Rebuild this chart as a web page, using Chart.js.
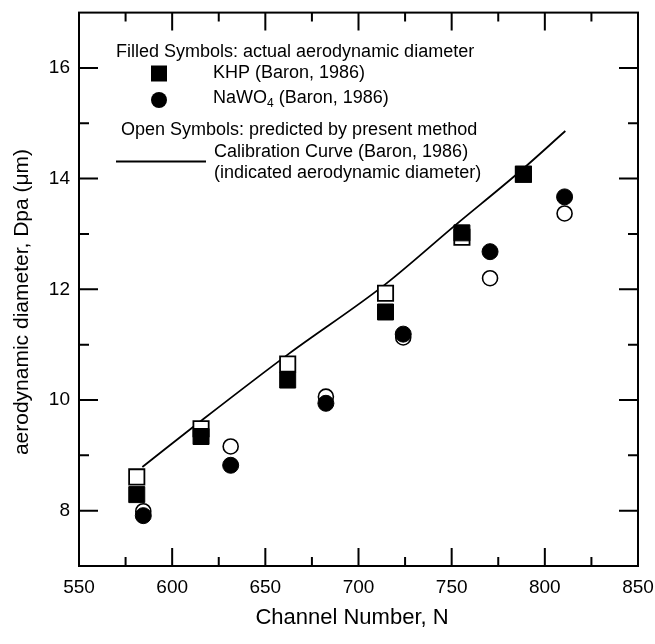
<!DOCTYPE html>
<html>
<head>
<meta charset="utf-8">
<title>Aerodynamic diameter vs channel number</title>
<script src="https://cdn.jsdelivr.net/npm/chart.js@4/dist/chart.umd.min.js"></script>
<style>
  html, body { margin: 0; padding: 0; background: #fff; }
  #wrap { width: 655px; height: 644px; }
</style>
</head>
<body>
<div id="wrap"><canvas id="chart" width="655" height="644"></canvas></div>
<script>
// KHP (Baron, 1986): channel number, actual and predicted diameter (um)
const khpN = [581, 615.5, 662, 714.5, 755.5, 788.5];
const khpActual = [8.29, 9.34, 10.36, 11.59, 13.02, 14.08];
const khpPredicted = [8.61, 9.48, 10.65, 11.93, 12.94, 14.08];

// NaWO4 (Baron, 1986)
const nawoN = [584.5, 631.4, 682.5, 724, 770.6, 810.6];
const nawoActual = [7.91, 8.82, 9.94, 11.19, 12.68, 13.67];
const nawoPredicted = [7.99, 9.16, 10.06, 11.13, 12.20, 13.37];

// calibration curve (indicated aerodynamic diameter)
const curveN = [584, 615, 662, 714, 752, 786, 811];
const curveDpa = [8.79, 9.61, 10.82, 12.08, 13.16, 14.11, 14.86];

const xTicks = [550, 600, 650, 700, 750, 800, 850];
const xMinor = [575, 625, 675, 725, 775, 825];
const yTicks = [8, 10, 12, 14, 16];
const yMinor = [9, 11, 13, 15];

const xTitle = 'Channel Number, N';
const yTitle = 'aerodynamic diameter, Dpa (\u03bcm)';
const legendLines = [
  'Filled Symbols: actual aerodynamic diameter',
  'KHP (Baron, 1986)',
  'NaWO',
  'Open Symbols: predicted by present method',
  'Calibration Curve (Baron, 1986)',
  '(indicated aerodynamic diameter)'
];

const FONT = '"Liberation Sans", Arial, Helvetica, sans-serif';
const pts = (xs, ys) => xs.map((v, i) => ({ x: v, y: ys[i] }));

// frame with inward ticks on all four sides
const frameTicks = {
  id: 'frameTicks',
  beforeDatasetsDraw(chart) {
    const { ctx, chartArea: a, scales: { x, y } } = chart;
    ctx.save();
    ctx.strokeStyle = '#000';
    ctx.lineWidth = 2;
    ctx.strokeRect(a.left, a.top, a.right - a.left, a.bottom - a.top);
    ctx.beginPath();
    const xt = (vals, len) => vals.forEach(v => {
      const px = x.getPixelForValue(v);
      ctx.moveTo(px, a.bottom); ctx.lineTo(px, a.bottom - len);
      ctx.moveTo(px, a.top); ctx.lineTo(px, a.top + len);
    });
    const yt = (vals, len) => vals.forEach(v => {
      const py = y.getPixelForValue(v);
      ctx.moveTo(a.left, py); ctx.lineTo(a.left + len, py);
      ctx.moveTo(a.right, py); ctx.lineTo(a.right - len, py);
    });
    xt(xTicks, 18); xt(xMinor, 9);
    yt(yTicks, 19); yt(yMinor, 10);
    ctx.stroke();
    ctx.restore();
  }
};

// legend text block and axis titles
const annotations = {
  id: 'annotations',
  afterDraw(chart) {
    const { ctx } = chart;
    ctx.save();
    ctx.fillStyle = '#000';
    ctx.strokeStyle = '#000';
    ctx.textBaseline = 'middle';
    ctx.textAlign = 'left';
    ctx.font = '18px ' + FONT;

    ctx.fillText(legendLines[0], 116, 52);

    ctx.fillRect(151, 65.5, 16, 16);
    ctx.fillText(legendLines[1], 213, 73.5);

    ctx.beginPath();
    ctx.arc(159, 100, 8, 0, Math.PI * 2);
    ctx.fill();
    ctx.fillText(legendLines[2], 213, 98.5);
    let w = ctx.measureText(legendLines[2]).width;
    ctx.font = '12px ' + FONT;
    ctx.fillText('4', 213 + w, 104);
    w += ctx.measureText('4').width;
    ctx.font = '18px ' + FONT;
    ctx.fillText(' (Baron, 1986)', 213 + w, 98.5);

    ctx.fillText(legendLines[3], 121, 130);
    ctx.lineWidth = 2;
    ctx.beginPath();
    ctx.moveTo(116, 161.5); ctx.lineTo(206, 161.5);
    ctx.stroke();
    ctx.fillText(legendLines[4], 214, 152);
    ctx.fillText(legendLines[5], 214, 173.5);

    ctx.font = '22px ' + FONT;
    ctx.textAlign = 'center';
    ctx.fillText(xTitle, 352, 618);

    ctx.translate(22, 302);
    ctx.rotate(-Math.PI / 2);
    ctx.font = '21px ' + FONT;
    ctx.fillText(yTitle, 0, 0);
    ctx.restore();
  }
};

const tickFont = { family: FONT, size: 19 };

new Chart(document.getElementById('chart'), {
  data: {
    datasets: [
      {
        type: 'scatter', label: 'NaWO4 actual', order: 0,
        data: pts(nawoN, nawoActual),
        pointStyle: 'circle', pointRadius: 8,
        backgroundColor: '#000', borderColor: '#000', borderWidth: 1
      },
      {
        type: 'scatter', label: 'KHP actual', order: 1,
        data: pts(khpN, khpActual),
        pointStyle: 'rect', pointRadius: 11.3,
        backgroundColor: '#000', borderColor: '#000', borderWidth: 1
      },
      {
        type: 'scatter', label: 'NaWO4 predicted', order: 2,
        data: pts(nawoN, nawoPredicted),
        pointStyle: 'circle', pointRadius: 7.5,
        backgroundColor: '#fff', borderColor: '#000', borderWidth: 1.6
      },
      {
        type: 'scatter', label: 'KHP predicted', order: 3,
        data: pts(khpN, khpPredicted),
        pointStyle: 'rect', pointRadius: 10.8,
        backgroundColor: '#fff', borderColor: '#000', borderWidth: 1.8
      },
      {
        type: 'line', label: 'Calibration Curve', order: 4,
        data: pts(curveN, curveDpa),
        borderColor: '#000', borderWidth: 1.8,
        pointRadius: 0, cubicInterpolationMode: 'monotone', fill: false
      }
    ]
  },
  options: {
    responsive: false,
    animation: false,
    events: [],
    layout: { padding: { top: 6, right: 17, left: 0, bottom: 0 } },
    scales: {
      x: {
        type: 'linear', min: 550, max: 850,
        afterBuildTicks: s => { s.ticks = xTicks.map(v => ({ value: v })); },
        afterFit: s => { s.height = 78; s.paddingLeft = 0; s.paddingRight = 0; },
        ticks: { font: tickFont, color: '#000', padding: 10, maxRotation: 0 },
        grid: { display: false, drawTicks: false },
        border: { display: false }
      },
      y: {
        type: 'linear', min: 7, max: 17,
        afterBuildTicks: s => { s.ticks = yTicks.map(v => ({ value: v })); },
        afterFit: s => { s.width = 79; s.paddingTop = 0; s.paddingBottom = 0; },
        ticks: { font: tickFont, color: '#000', padding: 9 },
        grid: { display: false, drawTicks: false },
        border: { display: false }
      }
    },
    plugins: { legend: { display: false }, tooltip: { enabled: false } }
  },
  plugins: [frameTicks, annotations]
});
</script>
</body>
</html>
